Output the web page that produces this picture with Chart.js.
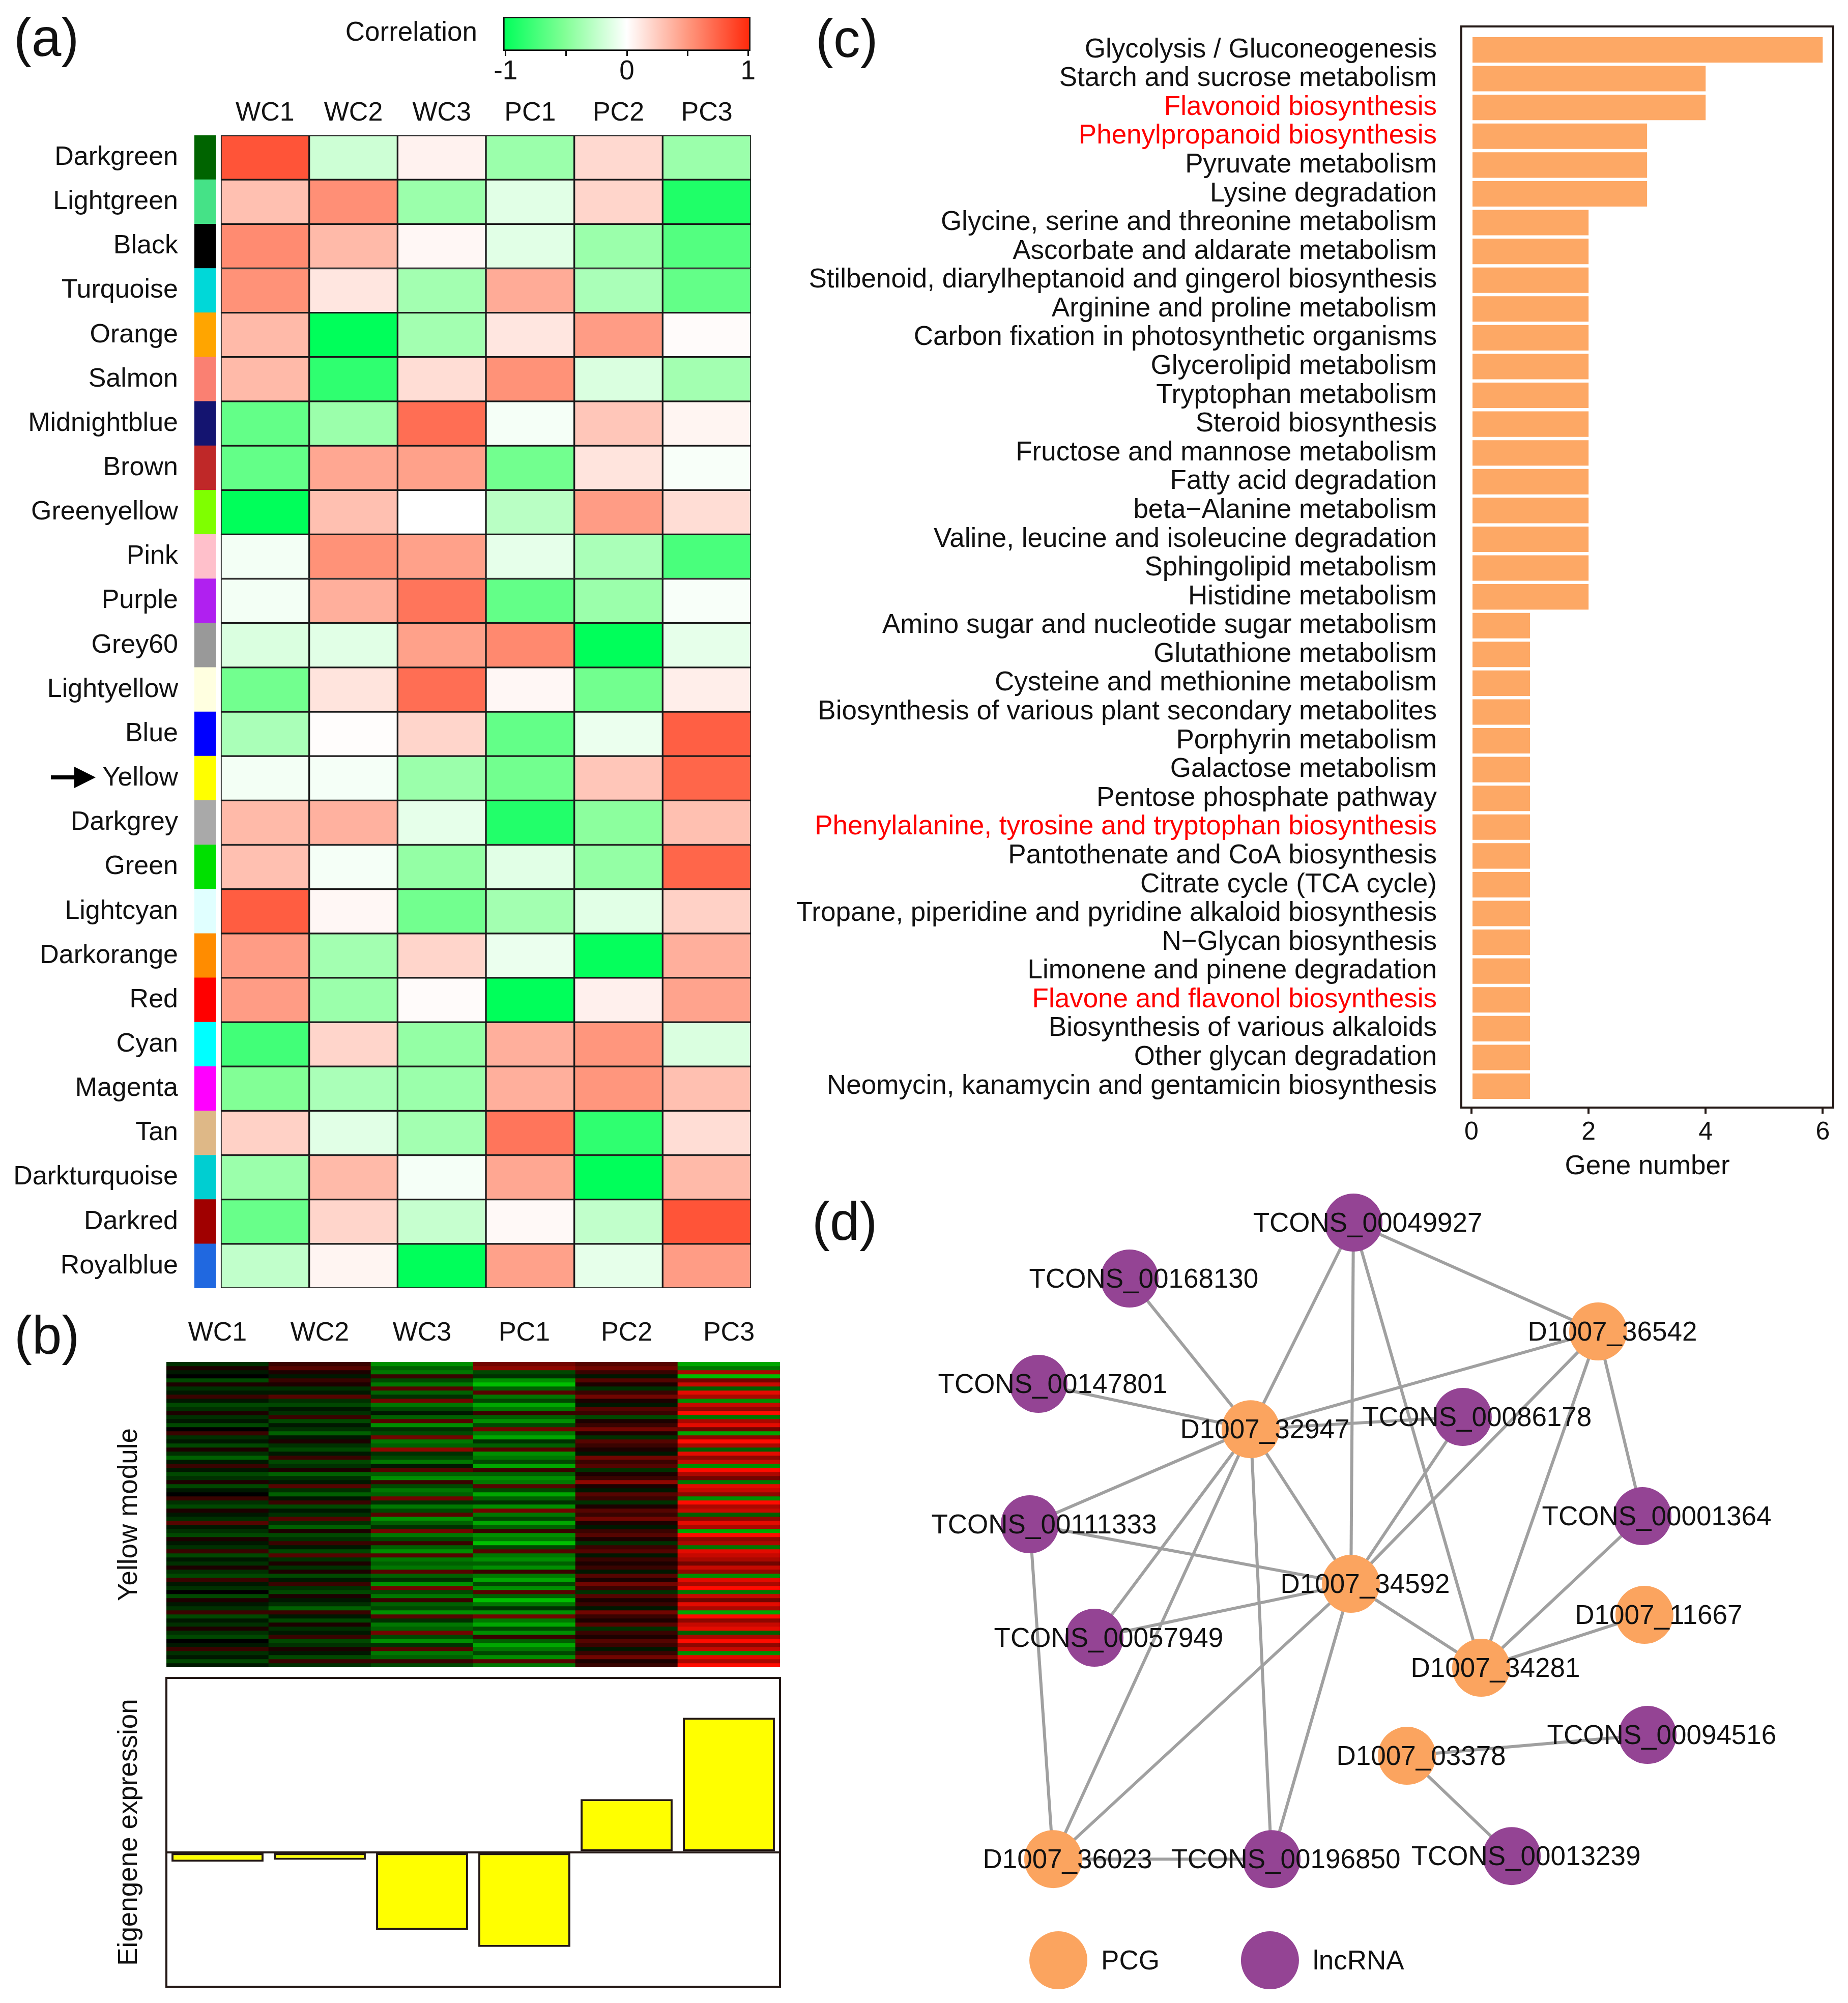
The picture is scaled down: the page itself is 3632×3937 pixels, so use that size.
<!DOCTYPE html>
<html><head><meta charset="utf-8">
<script src="https://cdn.jsdelivr.net/npm/chart.js@4.4.1/dist/chart.umd.min.js"></script>
<style>
html,body{margin:0;padding:0;background:#fff;}
#page{position:relative;width:3632px;height:3937px;overflow:hidden;background:#fff;font-family:'Liberation Sans',Arial,sans-serif;color:#111;}
#page canvas{position:absolute;}
.lbl{position:absolute;font-size:105px;line-height:105px;white-space:nowrap;}
.txt{position:absolute;font-size:53px;line-height:60px;white-space:nowrap;}
</style></head><body><div id="page">
<div class="lbl" style="left:27px;top:21px">(a)</div>
<div class="lbl" style="left:28px;top:2572px">(b)</div>
<div class="lbl" style="left:1603px;top:23px">(c)</div>
<div class="lbl" style="left:1596px;top:2348px">(d)</div>
<div class="txt" style="left:438px;width:500px;text-align:right;top:32px">Correlation</div>
<svg style="position:absolute;left:100px;top:1505px" width="90" height="46"><rect x="0" y="19" width="50" height="8" fill="#000"/><polygon points="46,2 88,23 46,44" fill="#000"/></svg>
</div>
<script>
// ---------- DATA ----------
const corrColumns = ['WC1','WC2','WC3','PC1','PC2','PC3'];
const modules = ['Darkgreen','Lightgreen','Black','Turquoise','Orange','Salmon','Midnightblue','Brown','Greenyellow','Pink','Purple','Grey60','Lightyellow','Blue','Yellow','Darkgrey','Green','Lightcyan','Darkorange','Red','Cyan','Magenta','Tan','Darkturquoise','Darkred','Royalblue'];
const moduleColors = ['#006400','#45E287','#000000','#00D8D8','#FFA500','#FA8072','#141470','#BF2828','#7FFF00','#FFC0CB','#B020F0','#999999','#FFFFE0','#0000FF','#FFFF00','#A9A9A9','#00E000','#E0FFFF','#FF8C00','#FF0000','#00FFFF','#FF00FF','#DEB887','#00CED1','#A00000','#2068E0'];
const corrWC1 = [0.8,0.3,0.55,0.52,0.33,0.33,-0.62,-0.62,-1.0,-0.05,-0.05,-0.15,-0.56,-0.34,-0.05,0.33,0.3,0.76,0.47,0.47,-0.75,-0.5,0.22,-0.4,-0.6,-0.25];
const corrWC2 = [-0.2,0.53,0.33,0.12,-1.0,-0.82,-0.4,0.42,0.3,0.52,0.38,-0.12,0.13,0.01,-0.04,0.37,-0.04,0.04,-0.37,-0.4,0.2,-0.34,-0.12,0.33,0.2,0.05];
const corrWC3 = [0.06,-0.4,0.04,-0.37,-0.37,0.16,0.68,0.45,0.0,0.45,0.65,0.45,0.68,0.2,-0.4,-0.1,-0.43,-0.56,0.2,0.02,-0.43,-0.4,-0.37,-0.04,-0.23,-1.0];
const corrPC1 = [-0.4,-0.12,-0.12,0.4,0.12,0.52,-0.04,-0.56,-0.28,-0.1,-0.62,0.56,0.04,-0.62,-0.56,-0.87,-0.12,-0.37,-0.08,-1.0,0.38,0.38,0.65,0.42,0.03,0.45];
const corrPC2 = [0.18,0.2,-0.4,-0.34,0.47,-0.15,0.27,0.13,0.47,-0.34,-0.4,-1.0,-0.56,-0.08,0.27,-0.46,-0.43,-0.12,-0.98,0.07,0.5,0.5,-0.82,-1.0,-0.25,-0.1];
const corrPC3 = [-0.4,-0.88,-0.68,-0.62,0.02,-0.37,0.05,-0.03,0.16,-0.72,-0.03,-0.1,0.08,0.75,0.72,0.3,0.72,0.22,0.38,0.44,-0.15,0.3,0.16,0.33,0.8,0.47];
const legendTicks = [-1,-0.5,0,0.5,1];

const samples = ['WC1','WC2','WC3','PC1','PC2','PC3'];
// yellow-module expression (scaled -9..9), one array per sample, rows top->bottom
const exprWC1 = [-2,1,-1,0,-3,1,-2,-1,2,-1,-3,-2,1,-2,-1,-3,0,2,-2,-1,-3,1,-2,-4,-1,2,-1,-3,-2,1,-3,-1,0,2,-2,-3,1,-1,-2,3,-1,-2,-3,1,-1,-2,2,-3,-1,-2,1,-2,-3,2,-1,-2,0,-3,1,-1,-2,2,-3,-1,-2,1,-2,-3,0,-1,2,-2,-1,-3,-1];
const exprWC2 = [2,3,1,-1,2,1,-2,-1,3,-2,-3,-1,-2,2,-3,-1,-2,-4,-1,1,-2,-3,-1,2,-3,-2,1,-4,-2,-1,3,-2,-4,-1,2,-3,-1,-2,3,-2,-4,1,-3,-2,2,-1,-3,3,-2,1,-2,1,-3,-1,2,-2,-3,1,-1,-2,-4,2,-1,-3,1,-2,-1,2,-3,-2,1,-1,-3,2,-2];
const exprWC3 = [-6,-4,-5,2,-3,-5,3,-4,-2,4,-5,-3,-1,-4,3,-6,-2,-3,4,-5,-4,5,-2,-3,-5,-1,3,-4,-6,2,-3,-5,-4,4,-2,-5,-3,3,-6,-4,-2,4,-5,-3,2,-4,-6,3,-5,-4,-5,3,-4,-2,-6,4,-3,-5,2,-4,-3,-6,3,-2,-5,-4,4,-3,-6,-2,3,-5,-4,2,-3];
const exprPC1 = [4,5,-3,-2,-6,-8,-4,3,-5,-3,-7,-5,2,-4,-6,-3,4,-5,-7,-2,-4,3,-6,-5,-3,-7,2,-4,-6,-5,3,-3,-7,-4,-2,-6,4,-5,-3,-7,-4,2,-6,-5,-8,-3,3,-5,-6,-4,-6,2,-5,-7,-3,-6,3,-4,-8,-5,-2,-6,4,-5,-7,-3,-6,2,-4,-7,-5,-3,-6,3,-5];
const exprPC2 = [3,4,2,-1,3,1,-2,2,4,1,-1,3,2,-3,1,2,4,1,-2,3,2,1,-1,4,2,3,-2,1,2,5,1,-1,3,2,-2,1,3,2,4,1,-1,2,3,1,-2,2,3,-1,2,1,2,-1,3,1,4,2,-2,3,1,2,-1,4,2,1,3,-2,2,1,3,2,-1,2,4,1,2];
const exprPC3 = [-7,-5,6,-8,4,7,-4,8,6,-6,7,5,9,-5,6,8,4,-7,5,9,6,-4,8,5,7,-6,9,6,4,-5,8,7,5,-6,9,6,7,-4,5,8,6,-7,9,5,6,-5,8,7,6,4,7,5,-6,8,6,9,-5,7,4,8,6,-7,9,5,7,8,-4,6,9,5,7,-6,8,6,9];
const eigengene = [-0.05,-0.04,-0.41,-0.50,0.28,0.71];

const pathways = ['Glycolysis / Gluconeogenesis','Starch and sucrose metabolism','Flavonoid biosynthesis','Phenylpropanoid biosynthesis','Pyruvate metabolism','Lysine degradation','Glycine, serine and threonine metabolism','Ascorbate and aldarate metabolism','Stilbenoid, diarylheptanoid and gingerol biosynthesis','Arginine and proline metabolism','Carbon fixation in photosynthetic organisms','Glycerolipid metabolism','Tryptophan metabolism','Steroid biosynthesis','Fructose and mannose metabolism','Fatty acid degradation','beta\u2212Alanine metabolism','Valine, leucine and isoleucine degradation','Sphingolipid metabolism','Histidine metabolism','Amino sugar and nucleotide sugar metabolism','Glutathione metabolism','Cysteine and methionine metabolism','Biosynthesis of various plant secondary metabolites','Porphyrin metabolism','Galactose metabolism','Pentose phosphate pathway','Phenylalanine, tyrosine and tryptophan biosynthesis','Pantothenate and CoA biosynthesis','Citrate cycle (TCA cycle)','Tropane, piperidine and pyridine alkaloid biosynthesis','N\u2212Glycan biosynthesis','Limonene and pinene degradation','Flavone and flavonol biosynthesis','Biosynthesis of various alkaloids','Other glycan degradation','Neomycin, kanamycin and gentamicin biosynthesis'];
const geneCounts = [6,4,4,3,3,3,2,2,2,2,2,2,2,2,2,2,2,2,2,2,1,1,1,1,1,1,1,1,1,1,1,1,1,1,1,1,1];
const redPathways = ['Flavonoid biosynthesis','Phenylpropanoid biosynthesis','Phenylalanine, tyrosine and tryptophan biosynthesis','Flavone and flavonol biosynthesis'];
const geneTicks = [0,2,4,6];

const nodeNames = ['TCONS_00049927','TCONS_00168130','D1007_36542','TCONS_00147801','D1007_32947','TCONS_00086178','TCONS_00111333','TCONS_00001364','D1007_34592','TCONS_00057949','D1007_11667','D1007_34281','TCONS_00094516','D1007_03378','D1007_36023','TCONS_00196850','TCONS_00013239'];
const nodeType = ['lncRNA','lncRNA','PCG','lncRNA','PCG','lncRNA','lncRNA','lncRNA','PCG','lncRNA','PCG','PCG','lncRNA','PCG','PCG','lncRNA','lncRNA'];
const nodeX = [53.09,31.85,76.30,23.21,43.34,63.46,22.39,80.50,52.85,28.52,80.69,65.20,80.98,58.16,24.61,45.32,68.10];
const nodeY = [4.97,10.28,15.30,20.27,24.57,23.41,33.59,32.82,39.24,44.35,42.18,47.20,53.57,55.55,65.35,65.35,65.06];
const edges = [
 ['TCONS_00049927','D1007_32947'],['TCONS_00049927','D1007_34592'],['TCONS_00049927','D1007_34281'],['TCONS_00049927','D1007_36542'],
 ['TCONS_00168130','D1007_32947'],['TCONS_00147801','D1007_32947'],['D1007_32947','D1007_36542'],['D1007_32947','TCONS_00086178'],
 ['D1007_32947','TCONS_00111333'],['D1007_32947','TCONS_00057949'],['D1007_32947','D1007_36023'],['D1007_32947','TCONS_00196850'],
 ['D1007_32947','D1007_34592'],['TCONS_00086178','D1007_34592'],['D1007_36542','D1007_34592'],['D1007_36542','D1007_34281'],
 ['D1007_36542','TCONS_00001364'],['TCONS_00111333','D1007_34592'],['TCONS_00111333','D1007_36023'],['D1007_34592','TCONS_00057949'],
 ['D1007_34592','D1007_36023'],['D1007_34592','TCONS_00196850'],['D1007_34592','D1007_34281'],['TCONS_00001364','D1007_34281'],
 ['D1007_11667','D1007_34281'],['D1007_03378','TCONS_00094516'],['D1007_03378','TCONS_00013239'],['D1007_36023','TCONS_00196850']
];
const legendNames = ['PCG','lncRNA'];
const legendX = [25.10,45.17];
const legendY = [74.95,74.95];

// ---------- HELPERS ----------
const FONT = "'Liberation Sans', Arial, sans-serif";
Chart.defaults.font.family = FONT;
Chart.defaults.color = '#111';
Chart.defaults.plugins.legend.display = false;
Chart.defaults.plugins.tooltip.enabled = false;

const CMAP = [[-1,[0,255,90]],[-0.5,[130,255,150]],[0,[255,255,255]],[0.5,[255,150,125]],[1,[255,40,10]]];
function corrColor(v){
  for(let i=0;i<CMAP.length-1;i++){
    const [a,ca]=CMAP[i],[b,cb]=CMAP[i+1];
    if(v<=b || i===CMAP.length-2){
      const t=Math.max(0,Math.min(1,(v-a)/(b-a)));
      return 'rgb('+ca.map((c,k)=>Math.round(c+(cb[k]-c)*t)).join(',')+')';
    }
  }
}
function exprColor(v){
  return v>=0 ? 'rgb('+Math.round(255*v)+','+Math.round(12*v)+',0)' : 'rgb(0,'+Math.round(215*-v)+',0)';
}
function mk(left, top, w, h, config){
  const c=document.createElement('canvas');
  c.width=w; c.height=h;
  c.style.left=left+'px'; c.style.top=top+'px'; c.style.width=w+'px'; c.style.height=h+'px';
  document.getElementById('page').appendChild(c);
  config.options=Object.assign({responsive:false,maintainAspectRatio:false,devicePixelRatio:1,animation:false,events:[]},config.options);
  return new Chart(c,config);
}
const noPad=s=>{s.paddingTop=0;s.paddingBottom=0;s.paddingLeft=0;s.paddingRight=0;};
const boxPlugin={id:'box',afterDatasetsDraw(chart){
  const {ctx,chartArea:a}=chart; ctx.save(); ctx.strokeStyle='#231815'; ctx.lineWidth=4;
  ctx.strokeRect(a.left,a.top,a.right-a.left,a.bottom-a.top); ctx.restore();}};

// ---------- (a) correlation heatmap ----------
const corrTable=[corrWC1,corrWC2,corrWC3,corrPC1,corrPC2,corrPC3];
const STRIP=0.242, GAP=0.0576;
const dsA=[
  {data:modules.map(()=>STRIP),backgroundColor:moduleColors,borderWidth:0},
  {data:modules.map(()=>GAP),backgroundColor:'rgba(0,0,0,0)',borderWidth:0},
  ...corrTable.map(col=>({data:col.map(()=>1),backgroundColor:col.map(corrColor),borderColor:'#1a1a1a',borderWidth:2,borderSkipped:false}))
];
mk(0,150,1500,2400,{type:'bar',data:{labels:modules,datasets:dsA},options:{
  indexAxis:'y',layout:{padding:{top:0,right:24,bottom:18,left:0}},
  datasets:{bar:{barPercentage:1,categoryPercentage:1}},
  scales:{
    x:{type:'linear',position:'top',stacked:true,min:0,max:STRIP+GAP+6,
      afterBuildTicks:s=>{s.ticks=corrColumns.map((_,i)=>({value:STRIP+GAP+i+0.5}));},
      afterFit:s=>{s.height=116;noPad(s);},grid:{display:false},border:{display:false},
      ticks:{autoSkip:false,maxRotation:0,padding:4,font:{size:52},color:'#111',callback:(v,i)=>corrColumns[i]}},
    y:{stacked:true,afterFit:s=>{s.width=382;noPad(s);},grid:{display:false},border:{display:false},
      ticks:{autoSkip:false,padding:24,font:{size:52},color:'#111'}}
  }}});

// colour key
mk(940,0,560,180,{type:'bar',data:{labels:['Correlation'],datasets:[{data:[[-1.02,1.02]],
  backgroundColor:(ctx)=>{const ch=ctx.chart,a=ch.chartArea; if(!a) return '#fff';
    const g=ch.ctx.createLinearGradient(a.left,0,a.right,0);
    CMAP.forEach(([v,c])=>g.addColorStop((v+1)/2,'rgb('+c.join(',')+')')); return g;},
  borderColor:'#111',borderWidth:3,borderSkipped:false}]},
  options:{indexAxis:'y',layout:{padding:{left:49,right:25,top:33,bottom:0}},
    datasets:{bar:{barPercentage:1,categoryPercentage:1}},
    scales:{y:{display:false},
      x:{min:-1.02,max:1.02,afterBuildTicks:s=>{s.ticks=legendTicks.map(v=>({value:v}));},afterFit:s=>{s.height=80;noPad(s);},
        grid:{drawOnChartArea:false,drawTicks:true,tickLength:10,color:'#111',lineWidth:3},border:{display:false},
        ticks:{padding:0,font:{size:53},color:'#111',autoSkip:false,maxRotation:0,callback:v=>Number.isInteger(v)?String(v):''}}}}});

// ---------- (b) yellow module heatmap ----------
const exprTable=[exprWC1,exprWC2,exprWC3,exprPC1,exprPC2,exprPC3];
const nRows=exprWC1.length;
const dsB=[];
for(let r=0;r<nRows;r++){dsB.push({data:samples.map(()=>1),backgroundColor:exprTable.map(col=>exprColor(col[r]/9)),borderWidth:0});}
mk(150,2580,1420,700,{type:'bar',data:{labels:samples,datasets:dsB},options:{
  layout:{padding:{top:0,right:37,bottom:3,left:0}},
  datasets:{bar:{barPercentage:1,categoryPercentage:1}},
  scales:{
    x:{position:'top',stacked:true,afterFit:s=>{s.height=97;noPad(s);},grid:{display:false},border:{display:false},
      ticks:{padding:17,font:{size:52},color:'#111',maxRotation:0}},
    y:{stacked:true,reverse:true,min:0,max:nRows,afterFit:s=>{s.width=177;noPad(s);},grid:{display:false},border:{display:false},
      ticks:{display:false},title:{display:true,text:'Yellow module',font:{size:53},color:'#111',padding:{top:73,bottom:0}}}
  }}});

// eigengene bars
mk(150,3280,1420,657,{type:'bar',data:{labels:samples,datasets:[{data:eigengene,backgroundColor:'#FFFF00',borderColor:'#231815',borderWidth:4,borderSkipped:false}]},
  options:{layout:{padding:{top:18,right:37,bottom:32,left:0}},
    datasets:{bar:{barPercentage:0.9,categoryPercentage:1}},
    scales:{x:{display:false},
      y:{min:-0.71,max:0.92,afterFit:s=>{s.width=177;noPad(s);},afterBuildTicks:s=>{s.ticks=[{value:0}];},
        grid:{drawTicks:false,color:'#231815',lineWidth:4},border:{display:false},ticks:{display:false},
        title:{display:true,text:'Eigengene expression',font:{size:53},color:'#111',padding:{top:73,bottom:0}}}}},
  plugins:[boxPlugin]});

// ---------- (c) KEGG bar chart ----------
mk(1500,0,2132,2400,{type:'bar',data:{datasets:[{data:pathways.map((p,i)=>({x:geneCounts[i],y:i})),backgroundColor:'#FDA865',borderWidth:0}]},
  options:{indexAxis:'y',layout:{padding:{top:52,right:29,bottom:73,left:0}},
    datasets:{bar:{barPercentage:0.885,categoryPercentage:1}},
    scales:{
      y:{type:'linear',offset:false,reverse:true,min:-0.813,max:36.742,afterBuildTicks:s=>{s.ticks=pathways.map((_,i)=>({value:i}));},
        afterFit:s=>{s.width=1372;noPad(s);},grid:{display:false,offset:false},border:{display:false},
        ticks:{autoSkip:false,padding:40,font:{size:53,lineHeight:1},
          color:(ctx)=>redPathways.includes(pathways[ctx.index])?'#FF0000':'#111',callback:(v,i)=>pathways[i]}},
      x:{type:'linear',min:-0.174,max:6.18,afterBuildTicks:s=>{s.ticks=geneTicks.map(v=>({value:v}));},afterFit:s=>{s.height=150;noPad(s);},
        grid:{drawOnChartArea:false,drawTicks:true,tickLength:12,color:'#231815',lineWidth:4},border:{display:false},
        ticks:{padding:7,font:{size:50},color:'#111',autoSkip:false,maxRotation:0},
        title:{display:true,text:'Gene number',font:{size:53},color:'#111',padding:{top:0,bottom:2}}}}},
  plugins:[boxPlugin]});

// ---------- (d) network ----------
const idx={}; nodeNames.forEach((n,i)=>idx[n]=i);
const PCG_COL='#FBA45F', LNC_COL='#944494';
const nodeDs=['PCG','lncRNA'].map(t=>({label:t,order:0,
  data:nodeNames.map((n,i)=>i).filter(i=>nodeType[i]===t).map(i=>({x:nodeX[i],y:nodeY[i]})),
  backgroundColor:t==='PCG'?PCG_COL:LNC_COL,borderWidth:0,pointRadius:57}));
const legendDs={order:0,data:legendX.map((x,i)=>({x,y:legendY[i]})),backgroundColor:[PCG_COL,LNC_COL],borderWidth:0,pointRadius:57};
const edgeDs=edges.map(([a,b])=>({order:2,showLine:true,pointRadius:0,borderColor:'#A0A0A0',borderWidth:6,
  data:[{x:nodeX[idx[a]],y:nodeY[idx[a]]},{x:nodeX[idx[b]],y:nodeY[idx[b]]}]}));
const netLabels={id:'netLabels',afterDatasetsDraw(chart){
  const {ctx,scales:{x,y}}=chart; ctx.save(); ctx.font="53px "+FONT; ctx.fillStyle='#111';
  ctx.textAlign='center'; ctx.textBaseline='middle';
  nodeNames.forEach((n,i)=>ctx.fillText(n,x.getPixelForValue(nodeX[i])+28,y.getPixelForValue(nodeY[i])+3));
  ctx.textAlign='left';
  legendNames.forEach((n,i)=>ctx.fillText(n,x.getPixelForValue(legendX[i])+84,y.getPixelForValue(legendY[i])+3));
  ctx.restore();}};
mk(1560,2300,2072,1637,{type:'scatter',data:{datasets:[...nodeDs,legendDs,...edgeDs]},
  options:{layout:{padding:0,autoPadding:false},clip:false,
    scales:{x:{type:'linear',min:0,max:100,display:false},y:{type:'linear',min:0,max:79,reverse:true,display:false}}},
  plugins:[netLabels]});
</script>
</body></html>
